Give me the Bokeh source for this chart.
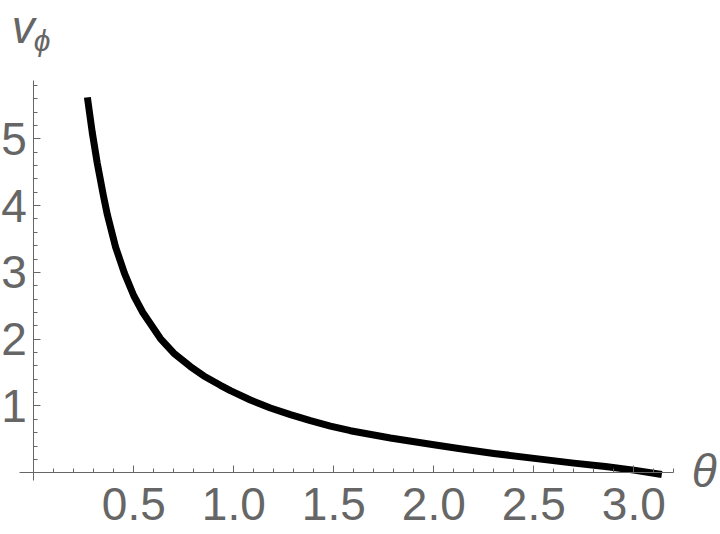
from bokeh.plotting import figure
from bokeh.models import Range1d, FixedTicker, Label, PrintfTickFormatter
from bokeh.embed import file_html
from bokeh.resources import INLINE

# data
theta = [0.268, 0.292, 0.317, 0.348, 0.368, 0.409, 0.453, 0.50, 0.545, 0.633,
         0.70, 0.783, 0.85, 0.933, 0.983, 1.083, 1.183, 1.283, 1.383, 1.483,
         1.583, 1.783, 2.0, 2.133, 2.3, 2.533, 2.7, 2.858, 3.0, 3.14]
v_phi = [5.62, 5.10, 4.64, 4.15, 3.86, 3.38, 2.99, 2.65, 2.40, 2.01,
         1.79, 1.59, 1.45, 1.31, 1.23, 1.09, 0.97, 0.87, 0.78, 0.70,
         0.63, 0.52, 0.42, 0.36, 0.29, 0.205, 0.145, 0.095, 0.04, -0.025]

x_major_ticks = [0.5, 1.0, 1.5, 2.0, 2.5, 3.0]
x_minor_ticks = [0.1, 0.2, 0.3, 0.4, 0.6, 0.7, 0.8, 0.9, 1.1, 1.2, 1.3, 1.4,
                 1.6, 1.7, 1.8, 1.9, 2.1, 2.2, 2.3, 2.4, 2.6, 2.7, 2.8, 2.9,
                 3.1, 3.2]
y_major_ticks = [1, 2, 3, 4, 5]
y_minor_ticks = [0.2, 0.4, 0.6, 0.8, 1.2, 1.4, 1.6, 1.8, 2.2, 2.4, 2.6, 2.8,
                 3.2, 3.4, 3.6, 3.8, 4.2, 4.4, 4.6, 4.8, 5.2, 5.4, 5.6, 5.8]

GRAY = "#666666"
FONT = "Liberation Sans"

p = figure(frame_width=720, frame_height=534,
           x_range=Range1d(-0.1665, 3.4335), y_range=Range1d(-0.9237, 7.0704),
           output_backend="svg", toolbar_location=None,
           min_border_left=0, min_border_top=0,
           min_border_right=0, min_border_bottom=0)
p.outline_line_color = None
p.xgrid.visible = False
p.ygrid.visible = False
p.background_fill_color = "white"
p.border_fill_color = "white"

p.line(theta, v_phi, line_color="black", line_width=7, line_cap="butt",
       line_join="round")

xa = p.xaxis[0]
ya = p.yaxis[0]
xa.fixed_location = 0
ya.fixed_location = 0
xa.bounds = (-0.07, 3.2)
ya.bounds = (-0.12, 5.88)
xa.ticker = FixedTicker(ticks=x_major_ticks, minor_ticks=x_minor_ticks)
ya.ticker = FixedTicker(ticks=y_major_ticks, minor_ticks=y_minor_ticks)
xa.formatter = PrintfTickFormatter(format="%.1f")
ya.formatter = PrintfTickFormatter(format="%d")
for ax in (xa, ya):
    ax.axis_line_color = GRAY
    ax.axis_line_width = 1
    ax.major_tick_line_color = GRAY
    ax.minor_tick_line_color = GRAY
    ax.major_tick_in = 7
    ax.major_tick_out = 0
    ax.minor_tick_in = 4
    ax.minor_tick_out = 0
    ax.major_label_text_font = FONT
    ax.major_label_text_font_size = "46px"
    ax.major_label_text_color = GRAY
xa.major_label_standoff = 15
ya.major_label_standoff = 7

p.add_layout(Label(x=-0.11, y=6.68, text="v", text_font=FONT,
                   text_font_style="italic", text_font_size="46px",
                   text_color=GRAY, text_baseline="alphabetic",
                   text_align="left"))
p.add_layout(Label(x=0.0, y=6.47, text="ϕ", text_font=FONT,
                   text_font_style="italic", text_font_size="30px",
                   text_color=GRAY, text_baseline="alphabetic",
                   text_align="left"))
p.add_layout(Label(x=3.29, y=0.03, text="θ", text_font=FONT,
                   text_font_style="italic", text_font_size="46px",
                   text_color=GRAY, text_baseline="alphabetic",
                   text_align="left"))

open("out.html", "w").write(file_html(p, INLINE))
